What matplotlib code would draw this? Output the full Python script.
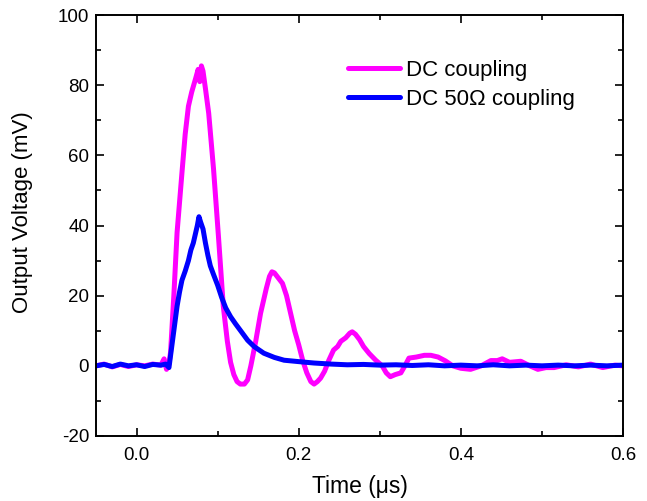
import matplotlib
matplotlib.use("Agg")
import matplotlib.pyplot as plt
from matplotlib.ticker import MultipleLocator

plt.rcParams['font.family'] = ['Liberation Sans', 'DejaVu Sans']
plt.rcParams['axes.unicode_minus'] = False

# DC coupling (magenta)
t_dc = [-0.05, -0.04, -0.03, -0.02, -0.01, 0.0, 0.01, 0.02, 0.03, 0.034, 0.037, 0.040,
        0.042, 0.046, 0.050, 0.056, 0.060, 0.064, 0.068, 0.073, 0.076, 0.078, 0.080, 0.082,
        0.085, 0.089, 0.095, 0.101, 0.107, 0.112, 0.116, 0.120, 0.124, 0.128, 0.133, 0.137,
        0.141, 0.147, 0.153, 0.160, 0.164, 0.167, 0.170, 0.175, 0.180, 0.185, 0.190, 0.195,
        0.200, 0.205, 0.210, 0.215, 0.219, 0.223, 0.227, 0.232, 0.237, 0.243, 0.248, 0.252,
        0.258, 0.263, 0.266, 0.270, 0.275, 0.280, 0.287, 0.295, 0.303, 0.308, 0.313, 0.319,
        0.326, 0.331, 0.336, 0.345, 0.355, 0.363, 0.372, 0.381, 0.390, 0.400, 0.412, 0.425,
        0.437, 0.445, 0.451, 0.460, 0.474, 0.485, 0.495, 0.505, 0.515, 0.53, 0.545, 0.56,
        0.575, 0.59, 0.6]
v_dc = [0, 0.5, -0.3, 0.4, -0.2, 0.3, 0, 0.5, 0.2, 2, -1, 0.5,
        4, 20, 38, 55, 66, 74, 78, 82, 84.5, 81, 85.5, 84,
        79, 72, 56, 37, 17, 7, 1, -2.5, -4.5, -5.2, -5.2, -4,
        0, 7, 15, 22, 25.5, 26.8, 26.5, 25, 23.5, 20, 15, 10,
        6, 1.5, -2, -4.5, -5.2, -4.5, -3.5, -1.5, 1.5, 4.5, 5.5, 7,
        8, 9.3, 9.7, 9, 7.5, 5.5, 3.5, 1.6, 0, -2, -3.1, -2.5,
        -2, 0, 2.2, 2.5, 3, 3, 2.5, 1.4, 0, -0.7, -1, 0,
        1.5, 1.5, 2, 1, 1.3, 0, -1, -0.5, -0.5, 0.3, -0.3, 0.5,
        -0.5, 0.2, 0]

# DC 50 Ohm coupling (blue)
t_50 = [-0.05, -0.04, -0.03, -0.02, -0.01, 0, 0.01, 0.02, 0.03, 0.036, 0.040, 0.042,
        0.046, 0.050, 0.053, 0.056, 0.060, 0.064, 0.067, 0.070, 0.073, 0.075, 0.077, 0.079,
        0.082, 0.085, 0.088, 0.091, 0.095, 0.100, 0.105, 0.110, 0.116, 0.122, 0.130, 0.137,
        0.145, 0.157, 0.170, 0.182, 0.200, 0.219, 0.24, 0.26, 0.28, 0.30, 0.32, 0.34,
        0.36, 0.38, 0.40, 0.42, 0.44, 0.46, 0.48, 0.50, 0.52, 0.54, 0.56, 0.58, 0.6]
v_50 = [0, 0.4, -0.2, 0.5, 0, 0.3, -0.2, 0.4, 0.2, 0.5, -0.5, 3,
        10, 17, 21, 24.4, 27, 30, 33, 35, 38, 40, 42.5, 41,
        39, 35, 31.5, 28.5, 26, 23, 19.5, 16.5, 14, 12, 9.5, 7.3,
        5.5, 3.6, 2.4, 1.6, 1.2, 0.8, 0.5, 0.3, 0.4, 0.2, 0.3, 0.1,
        0.3, 0, 0.2, 0, 0.3, 0, 0.2, 0, 0.2, 0, 0.2, 0, 0.2]

labels = ["DC coupling", "DC 50\u03a9 coupling"]
colors = ["#FF00FF", "#0000FF"]

fig = plt.figure(figsize=(6.47, 5.01), dpi=100)
ax = fig.add_axes([96/647, 1-436/501, (623-96)/647, (436-15)/501])

ax.plot(t_dc, v_dc, color=colors[0], lw=3.6, label=labels[0], solid_capstyle='round')
ax.plot(t_50, v_50, color=colors[1], lw=3.6, label=labels[1], solid_capstyle='round')

ax.set_xlim(-0.05, 0.6)
ax.set_ylim(-20, 100)
ax.xaxis.set_major_locator(MultipleLocator(0.2))
ax.xaxis.set_minor_locator(MultipleLocator(0.1))
ax.yaxis.set_major_locator(MultipleLocator(20))
ax.yaxis.set_minor_locator(MultipleLocator(10))
ax.xaxis.set_major_formatter(matplotlib.ticker.FormatStrFormatter('%.1f'))
ax.tick_params(which='both', direction='in', top=True, right=True, width=1.2, labelsize=13.5)
ax.tick_params(which='major', length=6)
ax.tick_params(which='minor', length=3.5)
ax.tick_params(axis='x', pad=8)
ax.tick_params(axis='y', pad=5)
for s in ax.spines.values():
    s.set_linewidth(1.4)

ax.set_xlabel("Time (\u03bcs)", fontsize=16.5, labelpad=8)
ax.set_ylabel("Output Voltage (mV)", fontsize=16)
ax.yaxis.set_label_coords(-0.1195, 0.532)

ax.legend(loc='upper left', bbox_to_anchor=(0.478, 0.894), frameon=False, fontsize=16,
          handlelength=2.33, handletextpad=0.3, labelspacing=0.38, borderaxespad=0,
          borderpad=0)

fig.savefig("out.png", dpi=100)
